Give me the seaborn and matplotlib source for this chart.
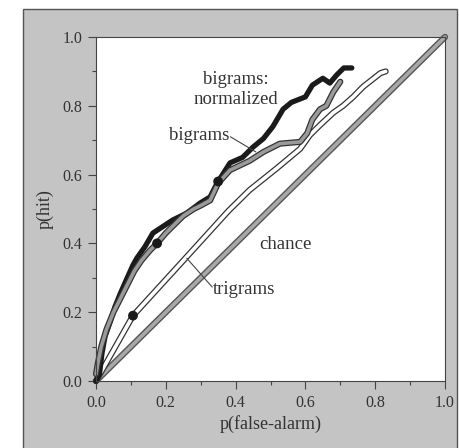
import numpy as np
import pandas as pd
import matplotlib
matplotlib.use("Agg")
import matplotlib.pyplot as plt
import matplotlib.patheffects as pe
from matplotlib.patches import Rectangle
from matplotlib.ticker import MultipleLocator
import seaborn as sns

# ---- data ----
norm_x = [0, 0.01, 0.017, 0.026, 0.04, 0.054, 0.07, 0.083, 0.106, 0.117, 0.14, 0.163,
          0.19, 0.22, 0.26, 0.298, 0.327, 0.347, 0.384, 0.42, 0.45, 0.48, 0.507, 0.536,
          0.56, 0.60, 0.62, 0.65, 0.67, 0.69, 0.71, 0.733]
norm_y = [0, 0.02, 0.08, 0.13, 0.17, 0.215, 0.255, 0.285, 0.337, 0.357, 0.39, 0.43,
          0.448, 0.468, 0.488, 0.517, 0.535, 0.575, 0.634, 0.65, 0.68, 0.705, 0.74, 0.79,
          0.81, 0.826, 0.86, 0.88, 0.866, 0.89, 0.91, 0.91]

bigram_x = [0, 0.005, 0.015, 0.03, 0.05, 0.07, 0.09, 0.11, 0.13, 0.155, 0.175, 0.2, 0.23,
            0.25, 0.28, 0.30, 0.327, 0.35, 0.384, 0.44, 0.48, 0.527, 0.585, 0.605, 0.62,
            0.642, 0.66, 0.68, 0.70]
bigram_y = [0.02, 0.05, 0.10, 0.15, 0.20, 0.24, 0.28, 0.32, 0.35, 0.38, 0.40, 0.43, 0.46,
            0.48, 0.50, 0.51, 0.525, 0.575, 0.613, 0.64, 0.666, 0.69, 0.695, 0.72, 0.76,
            0.79, 0.80, 0.84, 0.87]

trigram_x = [0, 0.106, 0.25, 0.38, 0.44, 0.52, 0.585, 0.613, 0.642, 0.68, 0.708, 0.737,
             0.765, 0.79, 0.815, 0.83]
trigram_y = [0, 0.19, 0.35, 0.495, 0.555, 0.62, 0.675, 0.715, 0.744, 0.78, 0.80, 0.826,
             0.855, 0.875, 0.895, 0.90]

chance_x = [0, 1]
chance_y = [0, 1]

dot_x = [0.175, 0.35, 0.106]
dot_y = [0.40, 0.58, 0.19]

x_ticks = [0.0, 0.2, 0.4, 0.6, 0.8, 1.0]
y_ticks = [0.0, 0.2, 0.4, 0.6, 0.8, 1.0]
tick_labels = ["0.0", "0.2", "0.4", "0.6", "0.8", "1.0"]

# ---- style ----
sns.set_style("ticks")
plt.rcParams["font.family"] = ["Liberation Serif", "DejaVu Serif"]
TXT = "#333333"

fig = plt.figure(figsize=(4.6, 4.48), dpi=100, facecolor="white")
fig.patches.append(Rectangle((23 / 460, -0.01), (457 - 23) / 460, 1 - 9 / 448 + 0.01,
                             transform=fig.transFigure, facecolor="#c4c4c4",
                             edgecolor="#555555", linewidth=1.0, zorder=-10))
ax = fig.add_axes([96 / 460, 1 - 381 / 448, (445 - 96) / 460, (381 - 37) / 448])
ax.set_facecolor("white")

# chance
sns.lineplot(x=chance_x, y=chance_y, ax=ax, color="#a8a8a8", linewidth=2.6,
             sort=False, errorbar=None,
             path_effects=[pe.Stroke(linewidth=4.6, foreground="#555555"), pe.Normal()])
# trigrams (hollow)
sns.lineplot(x=trigram_x, y=trigram_y, ax=ax, color="white", linewidth=2.6,
             sort=False, errorbar=None,
             path_effects=[pe.Stroke(linewidth=4.4, foreground="#333333"), pe.Normal()])
# bigrams normalized (thick black)
sns.lineplot(x=norm_x, y=norm_y, ax=ax, color="#1a1a1a", linewidth=3.8,
             sort=False, errorbar=None)
# bigrams (gray with dark edge)
sns.lineplot(x=bigram_x, y=bigram_y, ax=ax, color="#9a9a9a", linewidth=2.6,
             sort=False, errorbar=None,
             path_effects=[pe.Stroke(linewidth=4.4, foreground="#333333"), pe.Normal()])
# dots
sns.scatterplot(x=dot_x, y=dot_y, ax=ax, color="#1a1a1a", s=50, edgecolor="none", zorder=5)

for l in ax.lines:
    l.set_clip_on(False)

ax.set_xlim(0, 1)
ax.set_ylim(0, 1)
ax.set_xticks(x_ticks)
ax.set_xticklabels(tick_labels)
ax.set_yticks(y_ticks)
ax.set_yticklabels(tick_labels)
ax.xaxis.set_minor_locator(MultipleLocator(0.1))
ax.yaxis.set_minor_locator(MultipleLocator(0.1))
ax.tick_params(which="major", length=6, width=0.8, color="#444444", labelsize=11.5,
               labelcolor=TXT, pad=4)
ax.tick_params(which="minor", length=3, width=0.8, color="#444444")
for s in ax.spines.values():
    s.set_visible(True)
    s.set_color("#444444")
    s.set_linewidth(0.8)

ax.set_xlabel("p(false-alarm)", fontsize=13, color=TXT, labelpad=3)
ax.set_ylabel("p(hit)", fontsize=13, color=TXT, labelpad=6)

# annotations
fs = 13.5
ax.text(0.40, 0.875, "bigrams:", ha="center", va="center", fontsize=fs, color=TXT)
ax.text(0.40, 0.817, "normalized", ha="center", va="center", fontsize=fs, color=TXT)
ax.text(0.381, 0.715, "bigrams", ha="right", va="center", fontsize=fs, color=TXT)
ax.text(0.544, 0.398, "chance", ha="center", va="center", fontsize=fs, color=TXT)
ax.text(0.335, 0.267, "trigrams", ha="left", va="center", fontsize=fs, color=TXT)
ax.plot([0.385, 0.458], [0.71, 0.666], color="#444444", linewidth=0.8)
ax.plot([0.26, 0.333], [0.357, 0.273], color="#444444", linewidth=0.8)

fig.savefig("out.png", dpi=100, facecolor="white")
